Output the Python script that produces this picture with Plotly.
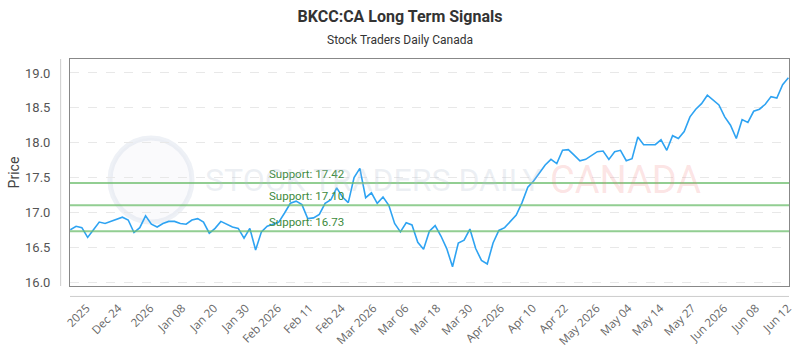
import numpy as np
import plotly.graph_objects as go

# ---- data ----
prices = [
    16.75, 16.80, 16.78, 16.64, 16.75, 16.86, 16.84, 16.87, 16.90, 16.93,
    16.89, 16.71, 16.78, 16.95, 16.83, 16.79, 16.84, 16.87, 16.87, 16.84,
    16.83, 16.89, 16.91, 16.86, 16.70, 16.77, 16.87, 16.83, 16.79, 16.77,
    16.63, 16.77, 16.46, 16.72, 16.80, 16.83, 16.86, 16.99, 17.13, 17.16,
    17.11, 16.91, 16.92, 16.97, 17.13, 17.18, 17.35, 17.22, 17.14, 17.50,
    17.63, 17.21, 17.28, 17.13, 17.22, 17.10, 16.84, 16.72, 16.85, 16.82,
    16.57, 16.47, 16.73, 16.81, 16.66, 16.48, 16.22, 16.56, 16.60, 16.76,
    16.48, 16.31, 16.26, 16.56, 16.74, 16.78, 16.87, 16.96, 17.14, 17.36,
    17.45, 17.57, 17.68, 17.76, 17.70, 17.89, 17.90, 17.82, 17.74, 17.76,
    17.82, 17.87, 17.88, 17.76, 17.87, 17.89, 17.74, 17.77, 18.08, 17.97,
    17.97, 17.97, 18.04, 17.89, 18.10, 18.06, 18.16, 18.37, 18.48, 18.56,
    18.68, 18.61, 18.54, 18.37, 18.25, 18.06, 18.33, 18.29, 18.45, 18.48,
    18.55, 18.66, 18.64, 18.83, 18.93,
]
x_idx = list(range(len(prices)))

support_levels = [17.42, 17.10, 16.73]
support_labels = ["Support: 17.42", "Support: 17.10", "Support: 16.73"]

tick_labels = [
    "2025", "Dec 24", "2026", "Jan 08", "Jan 20", "Jan 30", "Feb 2026",
    "Feb 11", "Feb 24", "Mar 2026", "Mar 06", "Mar 18", "Mar 30",
    "Apr 2026", "Apr 10", "Apr 22", "May 2026", "May 04", "May 14",
    "May 27", "Jun 2026", "Jun 08", "Jun 12",
]
y_ticks = [16.0, 16.5, 17.0, 17.5, 18.0, 18.5, 19.0]

# ---- figure ----
n = len(prices)
tick_pos = list(np.linspace(2.8, n - 1.1, len(tick_labels)))

fig = go.Figure()
fig.add_trace(go.Scatter(
    x=x_idx, y=prices, mode="lines",
    line=dict(color="#2ea3f2", width=1.6),
    showlegend=False, hoverinfo="skip",
))

shapes = []
for lvl in support_levels:
    shapes.append(dict(type="line", xref="paper", x0=0, x1=1, yref="y", y0=lvl, y1=lvl,
                       line=dict(color="rgba(110,190,110,0.75)", width=2), layer="above"))
# outer axis lines
shapes.append(dict(type="line", xref="paper", x0=-0.013, x1=-0.013, yref="paper", y0=0, y1=1,
                   line=dict(color="#cccccc", width=1)))
shapes.append(dict(type="line", xref="paper", x0=0, x1=1, yref="paper", y0=-0.046, y1=-0.046,
                   line=dict(color="#cccccc", width=1)))
# watermark logo circle
shapes.append(dict(type="circle", xref="paper", yref="paper",
                   x0=(110 - 70) / 719, x1=(192 - 70) / 719,
                   y0=(286 - 222) / 227, y1=(286 - 138) / 227,
                   line=dict(color="rgba(205,215,230,0.35)", width=5),
                   fillcolor="rgba(225,230,238,0.18)", layer="below"))

annotations = []
for lvl, lab in zip(support_levels, support_labels):
    annotations.append(dict(x=34.0, y=lvl, xref="x", yref="y", text=lab, showarrow=False,
                            xanchor="left", yanchor="bottom", yshift=0,
                            font=dict(family="Roboto", size=11.5, color="#3d8a3d")))
annotations.append(dict(
    x=(203 - 70) / 719, y=(286 - 180) / 227, xref="paper", yref="paper",
    text="STOCK TRADERS DAILY",
    showarrow=False, xanchor="left", yanchor="middle",
    font=dict(family="Roboto", size=32, color="rgba(180,192,210,0.25)")))
annotations.append(dict(
    x=(548 - 70) / 719, y=(286 - 180) / 227, xref="paper", yref="paper",
    text="CANADA",
    showarrow=False, xanchor="left", yanchor="middle",
    font=dict(family="Roboto", size=38, color="rgba(240,120,120,0.2)")))
annotations.append(dict(
    x=(400 - 70) / 719, y=(286 - 40) / 227, xref="paper", yref="paper",
    text="Stock Traders Daily Canada", showarrow=False,
    xanchor="center", yanchor="middle",
    font=dict(family="Roboto", size=12, color="#333333")))

fig.update_layout(
    width=800, height=350,
    margin=dict(l=70, r=11, t=59, b=64, autoexpand=False),
    paper_bgcolor="white", plot_bgcolor="white",
    title=dict(text="<b>BKCC:CA Long Term Signals</b>", x=0.5, xanchor="center",
               y=1 - 16 / 350, yanchor="middle", yref="container",
               font=dict(family="Roboto", size=16, color="#333333")),
    shapes=shapes, annotations=annotations,
    xaxis=dict(range=[-0.05, n - 1 + 0.1], tickmode="array", tickvals=tick_pos,
               ticktext=tick_labels, tickangle=-45, showgrid=False, zeroline=False,
               showline=True, mirror=True, linecolor="#888888", linewidth=1,
               ticks="outside", ticklen=10, tickcolor="rgba(0,0,0,0)", automargin=False,
               tickfont=dict(family="Open Sans", size=11.5, color="#666666")),
    yaxis=dict(range=[15.943, 19.20], tickmode="array", tickvals=y_ticks,
               ticktext=[f"{v:.1f}" for v in y_ticks], automargin=False,
               showgrid=True, gridcolor="#e8e8e8", griddash="dash", gridwidth=1,
               zeroline=False, showline=True, mirror=True, linecolor="#888888", linewidth=1,
               ticks="outside", ticklen=16, tickcolor="rgba(0,0,0,0)",
               tickfont=dict(family="Roboto", size=13, color="#555555"),
               title=dict(text="Price", font=dict(family="Roboto", size=14, color="#444444"),
                          standoff=2)),
)

fig.write_html("out.html")
